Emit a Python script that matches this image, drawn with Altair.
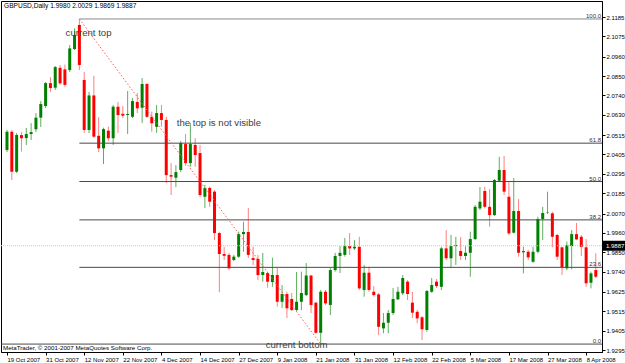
import json
import altair as alt
import pandas as pd

# ---- data ----
opens = [2.0430, 2.0534, 2.0307, 2.0515, 2.0498, 2.0521, 2.0548, 2.0614, 2.0680, 2.0810,
         2.0784, 2.0897, 2.0888, 2.0884, 2.1003, 2.1140, 2.0828, 2.0544, 2.0740, 2.0511,
         2.0440, 2.0540, 2.0497, 2.0676, 2.0636, 2.0629, 2.0619, 2.0703, 2.0670, 2.0805,
         2.0619, 2.0562, 2.0640, 2.0601, 2.0288, 2.0273, 2.0317, 2.0464, 2.0356, 2.0459,
         2.0413, 2.0165, 2.0215, 2.0194, 1.9959, 1.9840, 1.9835, 1.9806, 1.9825, 1.9953,
         1.9965, 1.9817, 1.9812, 1.9721, 1.9732, 1.9681, 1.9721, 1.9569, 1.9613, 1.9585,
         1.9522, 1.9569, 1.9607, 1.9718, 1.9564, 1.9393, 1.9626, 1.9551, 1.9749, 1.9829,
         1.9835, 1.9885, 1.9872, 1.9881, 1.9636, 1.9734, 1.9626, 1.9611, 1.9418, 1.9450,
         1.9505, 1.9583, 1.9617, 1.9683, 1.9564, 1.9512, 1.9481, 1.9409, 1.9626, 1.9683,
         1.9654, 1.9872, 1.9816, 1.9885, 1.9857, 1.9829, 1.9847, 1.9925, 2.0099, 2.0198,
         2.0108, 2.0061, 2.0256, 2.0317, 2.0165, 1.9961, 2.0084, 1.9850, 1.9853, 1.9796,
         1.9853, 2.0039, 2.0073, 2.0071, 1.9948, 1.9878, 1.9759, 1.9885, 1.9953, 1.9938,
         1.9878, 1.9677, 1.9749]
highs = [2.0544, 2.0544, 2.0527, 2.0532, 2.0555, 2.0583, 2.0640, 2.0708, 2.0816, 2.0844,
         2.0907, 2.0913, 2.0915, 2.1026, 2.1121, 2.1174, 2.0873, 2.0760, 2.0852, 2.0617,
         2.0557, 2.0563, 2.0686, 2.0703, 2.0680, 2.0765, 2.0725, 2.0754, 2.0839, 2.0810,
         2.0648, 2.0686, 2.0686, 2.0619, 2.0356, 2.0345, 2.0481, 2.0521, 2.0583, 2.0498,
         2.0459, 2.0232, 2.0222, 2.0203, 1.9967, 1.9881, 1.9846, 1.9835, 1.9967, 2.0023,
         2.0101, 1.9881, 1.9835, 1.9846, 1.9740, 1.9819, 1.9761, 1.9664, 1.9626, 1.9619,
         1.9738, 1.9740, 1.9789, 1.9721, 1.9567, 1.9636, 1.9636, 1.9761, 1.9846, 1.9885,
         1.9931, 1.9959, 1.9919, 1.9938, 1.9778, 1.9768, 1.9658, 1.9619, 1.9505, 1.9522,
         1.9647, 1.9654, 1.9721, 1.9692, 1.9626, 1.9522, 1.9488, 1.9636, 1.9704, 1.9698,
         1.9881, 1.9976, 1.9948, 1.9938, 1.9936, 1.9885, 1.9967, 2.0118, 2.0220, 2.0222,
         2.0209, 2.0266, 2.0392, 2.0396, 2.0250, 2.0271, 2.0152, 1.9881, 1.9863, 1.9881,
         2.0052, 2.0108, 2.0194, 2.0080, 1.9954, 1.9881, 1.9910, 1.9976, 2.0016, 1.9948,
         1.9925, 1.9740, 1.9844]
lows = [2.0419, 2.0260, 2.0300, 2.0421, 2.0459, 2.0487, 2.0532, 2.0561, 2.0669, 2.0759,
        2.0771, 2.0799, 2.0790, 2.0873, 2.0998, 2.0884, 2.0527, 2.0527, 2.0500, 2.0419,
        2.0351, 2.0481, 2.0459, 2.0527, 2.0612, 2.0521, 2.0612, 2.0640, 2.0583, 2.0612,
        2.0534, 2.0527, 2.0562, 2.0243, 2.0175, 2.0220, 2.0305, 2.0341, 2.0335, 2.0335,
        2.0164, 2.0101, 2.0108, 1.9919, 1.9623, 1.9806, 1.9749, 1.9800, 1.9818, 1.9853,
        1.9817, 1.9778, 1.9692, 1.9683, 1.9649, 1.9654, 1.9541, 1.9533, 1.9477, 1.9516,
        1.9516, 1.9522, 1.9602, 1.9505, 1.9388, 1.9335, 1.9551, 1.9494, 1.9740, 1.9732,
        1.9825, 1.9835, 1.9863, 1.9636, 1.9598, 1.9626, 1.9598, 1.9380, 1.9390, 1.9390,
        1.9494, 1.9579, 1.9607, 1.9579, 1.9477, 1.9448, 1.9352, 1.9399, 1.9619, 1.9647,
        1.9636, 1.9806, 1.9761, 1.9778, 1.9806, 1.9806, 1.9711, 1.9919, 2.0090, 2.0099,
        1.9995, 2.0056, 2.0250, 2.0175, 1.9948, 1.9957, 1.9825, 1.9730, 1.9806, 1.9791,
        1.9844, 1.9919, 2.0067, 1.9878, 1.9806, 1.9721, 1.9749, 1.9753, 1.9919, 1.9829,
        1.9654, 1.9645, 1.9704]
closes = [2.0534, 2.0307, 2.0515, 2.0497, 2.0521, 2.0532, 2.0614, 2.0691, 2.0810, 2.0782,
          2.0901, 2.0809, 2.0800, 2.1007, 2.1083, 2.0913, 2.0544, 2.0740, 2.0506, 2.0440,
          2.0549, 2.0497, 2.0676, 2.0629, 2.0625, 2.0635, 2.0708, 2.0667, 2.0805, 2.0619,
          2.0582, 2.0640, 2.0601, 2.0288, 2.0279, 2.0305, 2.0470, 2.0356, 2.0464, 2.0402,
          2.0175, 2.0215, 2.0137, 1.9959, 1.9840, 1.9830, 1.9759, 1.9825, 1.9953, 1.9965,
          1.9835, 1.9806, 1.9721, 1.9738, 1.9683, 1.9721, 1.9569, 1.9613, 1.9532, 1.9522,
          1.9569, 1.9619, 1.9718, 1.9551, 1.9393, 1.9626, 1.9560, 1.9749, 1.9829, 1.9847,
          1.9885, 1.9872, 1.9881, 1.9645, 1.9734, 1.9636, 1.9607, 1.9427, 1.9450, 1.9505,
          1.9585, 1.9626, 1.9704, 1.9613, 1.9507, 1.9475, 1.9413, 1.9630, 1.9664, 1.9658,
          1.9872, 1.9816, 1.9885, 1.9891, 1.9829, 1.9847, 1.9925, 2.0108, 2.0137, 2.0108,
          2.0061, 2.0260, 2.0317, 2.0194, 1.9957, 2.0084, 1.9847, 1.9857, 1.9821, 1.9853,
          2.0039, 2.0073, 2.0075, 1.9938, 1.9825, 1.9765, 1.9891, 1.9953, 1.9923, 1.9881,
          1.9674, 1.9730, 1.9711]

date_tick_bars = [0, 8, 16, 24, 32, 40, 48, 56, 64, 72, 80, 88, 96, 104, 112, 120]
date_tick_labels = ["19 Oct 2007", "31 Oct 2007", "12 Nov 2007", "22 Nov 2007", "4 Dec 2007",
                    "14 Dec 2007", "27 Dec 2007", "9 Jan 2008", "21 Jan 2008", "31 Jan 2008",
                    "12 Feb 2008", "22 Feb 2008", "5 Mar 2008", "17 Mar 2008", "27 Mar 2008",
                    "8 Apr 2008"]
price_ticks = [2.1185, 2.1075, 2.0960, 2.0850, 2.0740, 2.0630, 2.0515, 2.0405, 2.0295,
               2.0185, 2.0070, 1.9960, 1.9850, 1.9740, 1.9625, 1.9515, 1.9405, 1.9295]

fib_high, fib_low = 2.1174, 1.9329
fib_high_bar, fib_low_bar = 15, 65
fib_ratios = [100.0, 61.8, 50.0, 38.2, 23.6, 0.0]
current_price = 1.9887
header_text = "GBPUSD,Daily 1.9980 2.0029 1.9869 1.9887"
copyright_text = "MetaTrader, \u00a9 2001-2007 MetaQuotes Software Corp."

notes = pd.DataFrame({
    "text": ["current top", "the top is not visible", "current bottom"],
    "bar": [16.9, 43.9, 60.0],
    "price": [2.1094, 2.0585, 1.9326],
})

# ---- tables ----
n = len(opens)
df = pd.DataFrame({"bar": list(range(n)), "open": opens, "high": highs,
                   "low": lows, "close": closes})

fib = pd.DataFrame({
    "ratio": fib_ratios,
    "label": [f"{r:.1f}" for r in fib_ratios],
    "price": [fib_low + r / 100.0 * (fib_high - fib_low) for r in fib_ratios],
    "start": [fib_high_bar] * len(fib_ratios),
})
fib_upper = fib[fib["ratio"] > 0]
fib_zero = fib[fib["ratio"] == 0]
trend = pd.DataFrame({"bar": [fib_high_bar, fib_low_bar], "price": [fib_high, fib_low]})
cur = pd.DataFrame({"price": [current_price], "label": [f"{current_price:.4f}"],
                    "bar": [0]})

FONT = "Liberation Sans"
SMALL = 6.0
xs = alt.Scale(domain=[-0.204, 122.25], nice=False, zero=False)
ys = alt.Scale(domain=[1.9284, 2.1276], nice=False, zero=False)

label_expr = json.dumps(date_tick_labels) + "[round(datum.value / 8)]"
x_axis = alt.Axis(values=date_tick_bars, labelExpr=label_expr, title=None, grid=False,
                  tickSize=3, tickColor="black", domainColor="black", labelColor="black",
                  labelFont=FONT, labelFontSize=SMALL, labelAlign="left", labelBaseline="top",
                  labelPadding=1, labelOverlap=False, labelFlush=False, labelBound=False,
                  domain=True)
y_axis = alt.Axis(orient="right", values=price_ticks, format=".4f", title=None, grid=False,
                  tickSize=3, tickColor="black", domainColor="black", labelColor="black",
                  labelFont=FONT, labelFontSize=SMALL, labelPadding=1, labelOverlap=False,
                  labelFlush=False, labelBound=False)


def X(field):
    return alt.X(field, type="quantitative", scale=xs, axis=x_axis)


def Y(field):
    return alt.Y(field, type="quantitative", scale=ys, axis=y_axis)


up = "datum.close >= datum.open"
base = alt.Chart(df)
wicks = base.mark_rule(strokeWidth=1, clip=True).encode(
    x=X("bar"), y=Y("low"), y2="high",
    color=alt.condition(up, alt.value("#5fae5f"), alt.value("#ff7f7f")),
)
bodies = base.mark_bar(size=3, clip=True).encode(
    x=X("bar"), y=Y("open"), y2="close",
    color=alt.condition(up, alt.value("#008000"), alt.value("#ff0000")),
)

cur_line = alt.Chart(cur).mark_rule(color="#c8c8c8", strokeDash=[1, 1]).encode(
    y=Y("price"), x=alt.value(0), x2=alt.value(601))

fib_lines = alt.Chart(fib_upper).mark_rule(strokeWidth=1).encode(
    x=X("start"), x2=alt.value(601), y=Y("price"),
    color=alt.condition(alt.datum.ratio == 100, alt.value("#8a8a8a"), alt.value("#4a4a4a")),
)
fib_zero_line = alt.Chart(fib_zero).mark_rule(strokeWidth=1, color="#4a4a4a").encode(
    x=alt.value(0), x2=alt.value(601), y=Y("price"))
fib_labels = alt.Chart(fib).mark_text(align="right", baseline="bottom", font=FONT,
                                      fontSize=SMALL, color="#333333").encode(
    x=alt.value(600), y=Y("price"), text="label:N")

trend_line = alt.Chart(trend).mark_line(color="#ff5a5a", strokeDash=[1.5, 2],
                                        strokeWidth=1).encode(x=X("bar"), y=Y("price"))

note_text = alt.Chart(notes).mark_text(align="center", baseline="middle", font=FONT,
                                       fontSize=9.6, color="#404040").encode(
    x=X("bar"), y=Y("price"), text="text:N")

header = alt.Chart(cur).mark_text(align="left", baseline="middle", font=FONT, fontSize=6.6,
                                  color="black", text=header_text).encode(
    x=alt.value(3), y=alt.value(5))
copyright_mark = alt.Chart(cur).mark_text(align="left", baseline="middle", font=FONT,
                                          fontSize=6.2, color="black",
                                          text=copyright_text).encode(
    x=alt.value(2), y=alt.value(347))

price_box = alt.Chart(cur).mark_rect(color="black", height=10).encode(
    y=Y("price"), x=alt.value(602), x2=alt.value(624))
price_box_text = alt.Chart(cur).mark_text(align="left", baseline="middle", font=FONT,
                                          fontSize=SMALL, color="white").encode(
    y=Y("price"), x=alt.value(605), text="label:N")

chart = alt.layer(
    wicks, bodies, cur_line, fib_lines, fib_zero_line, trend_line, fib_labels, note_text,
    header, copyright_mark, price_box, price_box_text,
).properties(
    width=601, height=351,
    autosize=alt.AutoSizeParams(type="none"),
    padding={"left": 1, "top": 1, "right": 23, "bottom": 11},
    background="white",
).configure_view(stroke="black", strokeWidth=1)

chart.save("out.html", embed_options={"renderer": "svg", "actions": False})
